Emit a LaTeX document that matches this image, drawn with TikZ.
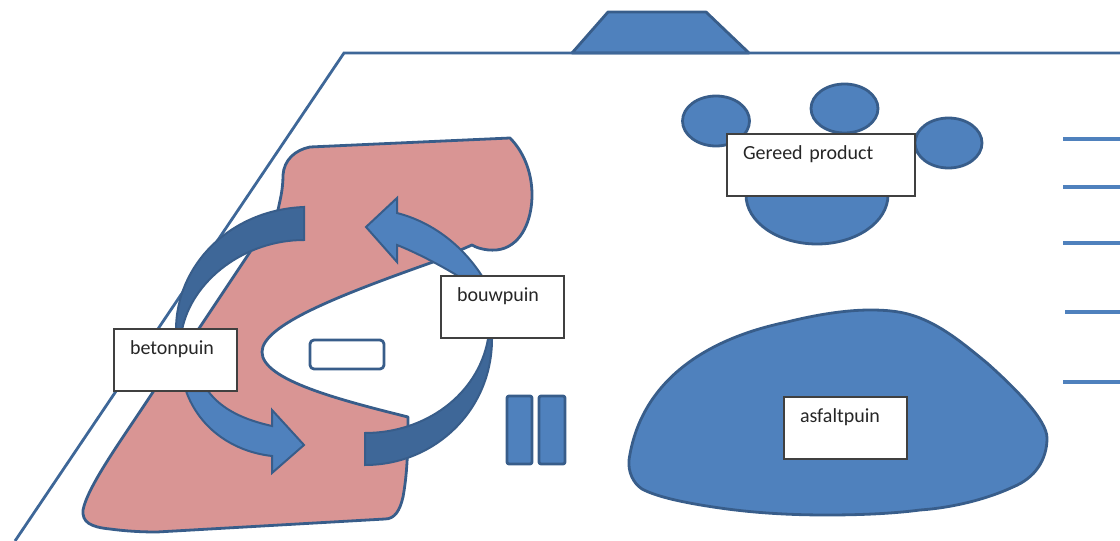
\documentclass[tikz,border=0pt]{standalone}
\usepackage{fontspec}
\setmainfont{Carlito}
\usepackage{tikz}
\usetikzlibrary{positioning}
\definecolor{puinblauw}{RGB}{79, 129, 189}
\definecolor{randblauw}{RGB}{56, 93, 138}
\definecolor{donkerblauw}{RGB}{62, 103, 152}
\definecolor{puinroze}{RGB}{217, 149, 148}
\tikzset{
	vlak/.style={draw=randblauw,line width=2.1pt,line join=round,fill=puinblauw},
	pijl/.style={draw=randblauw,line width=1.5pt,line join=miter,fill=#1},
	streep/.style={draw=puinblauw,line width=3.2pt},
	kaart/.style={draw=black!75,line width=0.8pt,fill=white,anchor=north west,align=left,
		minimum height=46.5pt,inner xsep=12pt,inner ysep=0pt,outer sep=0pt,text width=#1,
		font=\fontsize{15}{18}\selectfont,text=black!85}
}

\begin{document}
\begin{tikzpicture}[x=0.75pt,y=-0.75pt]
	\useasboundingbox (0,0) rectangle (1120,541);
	% terrein
	\draw[vlak] (572,53)--(608,12)--(706,12)--(749,53)--cycle;
	\draw[line width=2.1pt,draw=donkerblauw] (15,541)--(344,53)--(1120,53);
	% puinvlak
	\draw[vlak,fill=puinroze] (510,138)--(310,147) .. controls (295,150) and (284,160) .. (283,175)
		.. controls (283,190) and (280,200) .. (278,210)--(200,327)--(153,392)
		.. controls (125,435) and (88,485) .. (83,510) .. controls (82,522) and (90,527) .. (110,529)
		.. controls (125,531) and (140,532) .. (157,532)--(385,519)
		.. controls (395,519) and (400,510) .. (403,497) .. controls (408,470) and (408,440) .. (408,417)
		.. controls (340,400) and (262,380) .. (262,352) .. controls (262,325) and (340,295) .. (433,262)
		--(472,245) .. controls (480,250) and (495,252) .. (505,248)
		.. controls (525,240) and (532,215) .. (532,195) .. controls (532,170) and (522,150) .. (510,138)--cycle;
	\draw[vlak,fill=white,rounded corners=3pt] (310,340) rectangle (384,369);
	\draw[vlak,rounded corners=1.5pt] (507,396) rectangle (532,464);
	\draw[vlak,rounded corners=1.5pt] (539,396) rectangle (565,464);
	% pijlen
	\draw[pijl=donkerblauw] (304,207) .. controls (230,210) and (176,265) .. (176,330)--(182,330)
		.. controls (192,280) and (245,240) .. (304,240)--cycle;
	\draw[pijl=donkerblauw] (365,465) .. controls (435,465) and (492,410) .. (492,339)--(488,339)
		.. controls (478,395) and (425,433) .. (365,433)--cycle;
	\draw[pijl=puinblauw] (186,391) .. controls (200,430) and (235,452) .. (272,456)--(272,473)--(304,445)--(272,410)--(272,426)
		.. controls (245,420) and (222,410) .. (208,391)--cycle;
	\draw[pijl=puinblauw] (482,276) .. controls (462,245) and (432,222) .. (397,213)--(397,198)--(366,227)--(397,262)--(397,245)
		.. controls (415,252) and (440,265) .. (458,276)--cycle;
	% product
	\draw[vlak] (716,121) ellipse (33.5 and 25);
	\draw[vlak] (844.5,108.5) ellipse (33.5 and 24.5);
	\draw[vlak] (948.5,143) ellipse (33.5 and 25);
	\draw[vlak] (817,195) ellipse (71 and 49);
	% asfalt
	\draw[vlak] (629,460) .. controls (640,385) and (700,340) .. (787,322)
		.. controls (815,315) and (845,310) .. (870,310) .. controls (890,310) and (905,312) .. (920,318)
		.. controls (945,328) and (965,345) .. (987,363) .. controls (1015,388) and (1047,420) .. (1047,438)
		.. controls (1047,460) and (1035,478) .. (1013,487) .. controls (985,500) and (950,508) .. (920,510)
		.. controls (890,514) and (855,515) .. (827,515) .. controls (790,515) and (755,513) .. (720,508)
		.. controls (685,503) and (657,497) .. (642,489) .. controls (633,483) and (628,472) .. (629,460)--cycle;
	% strepen
	\draw[streep] (1063,139)--(1120,139);
	\draw[streep] (1063,187)--(1120,187);
	\draw[streep] (1063,243)--(1120,243);
	\draw[streep] (1065,312)--(1120,312);
	\draw[streep] (1063,382)--(1120,382);
	% kaarten
	\node[kaart=68.25pt] (betonpuin) at (114,329) {betonpuin\\~};
	\node[kaart=68.25pt] (bouwpuin) at (441,276) {bouwpuin\\~};
	\node[kaart=117pt] (gereedproduct) at (727,134) {Gereed product\\~};
	\node[kaart=68.25pt] (asfaltpuin) at (784,397) {asfaltpuin\\~};
\end{tikzpicture}
\end{document}
